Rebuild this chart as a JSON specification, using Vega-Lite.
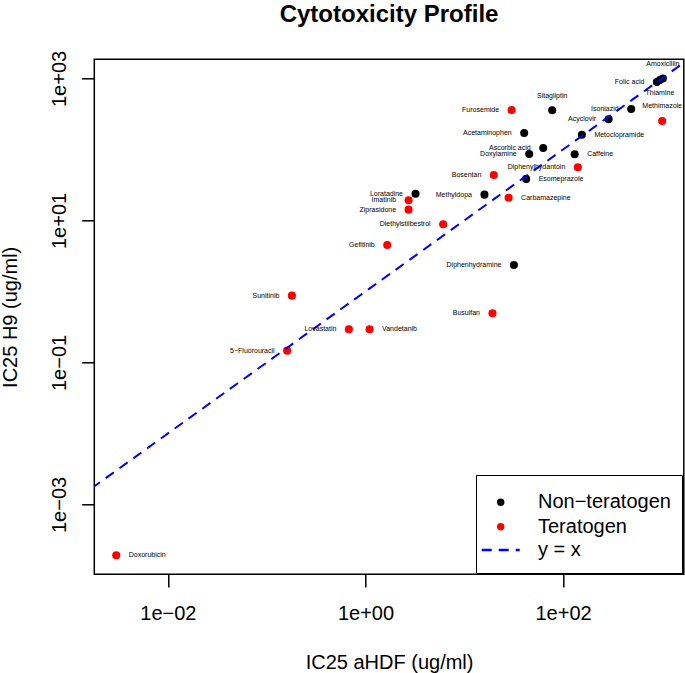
{
  "$schema": "https://vega.github.io/schema/vega-lite/v6.json",
  "width": 589.5,
  "height": 515,
  "autosize": {"type": "none"},
  "padding": {"left": 94.3, "top": 59.3, "right": 1.2, "bottom": 98.7},
  "background": "white",
  "title": {
    "text": "Cytotoxicity Profile",
    "font": "Liberation Sans",
    "fontSize": 24,
    "fontWeight": "bold",
    "color": "black",
    "anchor": "middle",
    "frame": "group",
    "baseline": "alphabetic",
    "offset": 4
  },
  "config": {
    "view": {"stroke": "black", "strokeWidth": 1.5},
    "font": "Liberation Sans"
  },
  "data": {
    "values": [
      {"name": "Amoxicillin", "hdf": 1023, "h9": 1000, "class": "Non−teratogen"},
      {"name": "Folic acid", "hdf": 890, "h9": 893, "class": "Non−teratogen"},
      {"name": "Thiamine", "hdf": 955, "h9": 953, "class": "Non−teratogen"},
      {"name": "Sitagliptin", "hdf": 77.6, "h9": 356, "class": "Non−teratogen"},
      {"name": "Furosemide", "hdf": 30.1, "h9": 360, "class": "Teratogen"},
      {"name": "Isoniazid", "hdf": 489, "h9": 371, "class": "Non−teratogen"},
      {"name": "Methimazole", "hdf": 1007, "h9": 252, "class": "Teratogen"},
      {"name": "Acyclovir", "hdf": 289, "h9": 266, "class": "Non−teratogen"},
      {"name": "Acetaminophen", "hdf": 40.4, "h9": 171, "class": "Non−teratogen"},
      {"name": "Metoclopramide", "hdf": 155, "h9": 161, "class": "Non−teratogen"},
      {"name": "Ascorbic acid", "hdf": 62.9, "h9": 105, "class": "Non−teratogen"},
      {"name": "Doxylamine", "hdf": 45.4, "h9": 86.5, "class": "Non−teratogen"},
      {"name": "Caffeine", "hdf": 131, "h9": 85.5, "class": "Non−teratogen"},
      {"name": "Diphenylhydantoin", "hdf": 141, "h9": 56.1, "class": "Teratogen"},
      {"name": "Bosentan", "hdf": 19.9, "h9": 43.7, "class": "Teratogen"},
      {"name": "Esomeprazole", "hdf": 42.3, "h9": 38.5, "class": "Non−teratogen"},
      {"name": "Methyldopa", "hdf": 16.0, "h9": 23.1, "class": "Non−teratogen"},
      {"name": "Carbamazepine", "hdf": 28.1, "h9": 20.9, "class": "Teratogen"},
      {"name": "Diethylstilbestrol", "hdf": 6.11, "h9": 8.83, "class": "Teratogen"},
      {"name": "Loratadine", "hdf": 3.21, "h9": 23.8, "class": "Non−teratogen"},
      {"name": "Imatinib", "hdf": 2.73, "h9": 19.3, "class": "Teratogen"},
      {"name": "Ziprasidone", "hdf": 2.73, "h9": 14.2, "class": "Teratogen"},
      {"name": "Gefitinib", "hdf": 1.66, "h9": 4.52, "class": "Teratogen"},
      {"name": "Diphenhydramine", "hdf": 31.8, "h9": 2.36, "class": "Non−teratogen"},
      {"name": "Sunitinib", "hdf": 0.180, "h9": 0.873, "class": "Teratogen"},
      {"name": "Busulfan", "hdf": 19.3, "h9": 0.493, "class": "Teratogen"},
      {"name": "Lovastatin", "hdf": 0.679, "h9": 0.294, "class": "Teratogen"},
      {"name": "Vandetanib", "hdf": 1.10, "h9": 0.294, "class": "Teratogen"},
      {"name": "5−Fluorouracil", "hdf": 0.161, "h9": 0.1466, "class": "Teratogen"},
      {"name": "Doxorubicin", "hdf": 0.0030, "h9": 0.000193, "class": "Teratogen"}
    ]
  },
  "encoding": {
    "x": {
      "field": "hdf", "type": "quantitative",
      "scale": {"type": "log", "domain": [0.001799, 1667], "nice": false, "zero": false},
      "axis": {
        "title": "IC25 aHDF (ug/ml)",
        "values": [0.01, 1, 100],
        "labelExpr": "datum.value < 0.1 ? '1e−02' : datum.value < 10 ? '1e+00' : '1e+02'",
        "grid": false, "domain": false,
        "tickSize": 12.6, "tickColor": "black", "tickWidth": 1.5,
        "labelFont": "Liberation Sans", "labelFontSize": 20, "labelColor": "black",
        "labelPadding": 32.4, "labelBaseline": "alphabetic", "labelFlush": false, "labelOverlap": false,
        "titleFont": "Liberation Sans", "titleFontSize": 20, "titleFontWeight": "normal", "titleColor": "black",
        "titleBaseline": "alphabetic", "titleY": 94, "titleX": 294.75, "titleAlign": "center"
      }
    },
    "y": {
      "field": "h9", "type": "quantitative",
      "scale": {"type": "log", "domain": [0.00010375, 1862], "nice": false, "zero": false},
      "axis": {
        "title": "IC25 H9 (ug/ml)",
        "values": [0.001, 0.1, 10, 1000],
        "labelExpr": "datum.value < 0.01 ? '1e−03' : datum.value < 1 ? '1e−01' : datum.value < 100 ? '1e+01' : '1e+03'",
        "grid": false, "domain": false,
        "tickSize": 12.6, "tickColor": "black", "tickWidth": 1.5,
        "labelFont": "Liberation Sans", "labelFontSize": 20, "labelColor": "black",
        "labelAngle": 270, "labelAlign": "center", "labelBaseline": "alphabetic",
        "labelPadding": 16.7, "labelFlush": false, "labelOverlap": false,
        "titleFont": "Liberation Sans", "titleFontSize": 20, "titleFontWeight": "normal", "titleColor": "black",
        "titleAngle": 270, "titleBaseline": "alphabetic", "titleAlign": "center",
        "titleX": -78.3, "titleY": 257.5
      }
    }
  },
  "layer": [
    {
      "mark": {"type": "point", "filled": true, "opacity": 1, "size": 65, "shape": "circle"},
      "encoding": {
        "color": {
          "field": "class", "type": "nominal",
          "scale": {"domain": ["Non−teratogen", "Teratogen", " "], "range": ["black", "red", "white"]},
          "legend": {
            "title": " ",
            "titleFontSize": 2,
            "titlePadding": 4.2,
            "orient": "none",
            "legendX": 381.7,
            "legendY": 415.7,
            "direction": "vertical",
            "fillColor": "white",
            "strokeColor": "black",
            "padding": 11,
            "symbolSize": 55,
            "symbolType": "circle",
            "symbolStrokeWidth": 0,
            "rowPadding": 4.6,
            "symbolOffset": 3.7,
            "labelOffset": 27.3,
            "labelFont": "Liberation Sans",
            "labelFontSize": 20,
            "labelColor": "black",
            "labelLimit": 400
          }
        }
      }
    },
    {
      "data": {"values": [{"hdf": 0.0017, "h9": 0.0017}, {"hdf": 1700, "h9": 1700}]},
      "mark": {"type": "line", "color": "blue", "strokeWidth": 2, "clip": true},
      "encoding": {
        "strokeDash": {
          "datum": "y = x", "type": "nominal",
          "scale": {"domain": ["y = x"], "range": [[10, 7]]},
          "legend": {
            "title": null,
            "orient": "none",
            "legendX": 385.9,
            "legendY": 470.3,
            "padding": 0,
            "symbolType": "stroke",
            "symbolSize": 1444,
            "symbolStrokeColor": "blue",
            "symbolStrokeWidth": 2.5,
            "symbolOffset": 0,
            "labelOffset": 16.8,
            "labelFont": "Liberation Sans",
            "labelFontSize": 20,
            "labelColor": "black"
          }
        }
      }
    },
    {
      "transform": [{"filter": {"field": "name", "oneOf": ["Folic acid", "Furosemide", "Isoniazid", "Acyclovir", "Acetaminophen", "Ascorbic acid", "Doxylamine", "Diphenylhydantoin", "Bosentan", "Methyldopa", "Diethylstilbestrol", "Loratadine", "Imatinib", "Ziprasidone", "Gefitinib", "Diphenhydramine", "Sunitinib", "Busulfan", "Lovastatin", "5−Fluorouracil"]}}],
      "mark": {"type": "text", "align": "right", "baseline": "middle", "dx": -12.5, "fontSize": 7, "font": "Liberation Sans", "color": "black"},
      "encoding": {"text": {"field": "name"}}
    },
    {
      "transform": [{"filter": {"field": "name", "oneOf": ["Metoclopramide", "Caffeine", "Esomeprazole", "Carbamazepine", "Vandetanib", "Doxorubicin"]}}],
      "mark": {"type": "text", "align": "left", "baseline": "middle", "dx": 12.5, "fontSize": 7, "font": "Liberation Sans", "color": "black"},
      "encoding": {"text": {"field": "name"}}
    },
    {
      "transform": [{"filter": {"field": "name", "oneOf": ["Amoxicillin", "Sitagliptin", "Methimazole"]}}],
      "mark": {"type": "text", "align": "center", "baseline": "middle", "dy": -14.5, "fontSize": 7, "font": "Liberation Sans", "color": "black"},
      "encoding": {"text": {"field": "name"}}
    },
    {
      "transform": [{"filter": {"field": "name", "oneOf": ["Thiamine"]}}],
      "mark": {"type": "text", "align": "center", "baseline": "middle", "dy": 13, "fontSize": 7, "font": "Liberation Sans", "color": "black"},
      "encoding": {"text": {"field": "name"}}
    }
  ]
}
